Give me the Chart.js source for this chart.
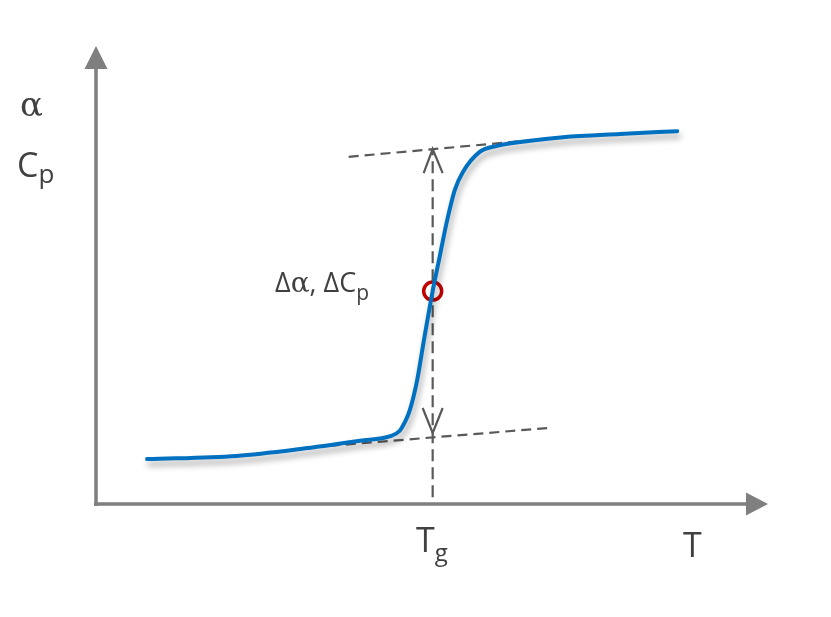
<!DOCTYPE html>
<html>
<head>
<meta charset="utf-8">
<script src="https://cdn.jsdelivr.net/npm/chart.js@4.4.0/dist/chart.umd.min.js"></script>
<style>
  html, body { margin: 0; padding: 0; background: #fff; }
  #wrap { width: 831px; height: 617px; }
</style>
</head>
<body>
<div id="wrap"><canvas id="c"></canvas></div>
<script>
// schematic glass transition curve, axes 0..100 in both directions
const curveT = [7.6, 20.9, 30.4, 39.3, 43.8, 45.2, 45.9, 46.7, 47.8, 48.8, 50.1, 51.2, 52.2, 53.4, 54.6, 57.1, 59.7, 64.6, 69.5, 78.0, 86.5];
const curveY = [9.8, 10.5, 12.0, 13.8, 14.8, 16.0, 17.7, 20.5, 27.1, 35.8, 46.5, 54.4, 61.6, 68.6, 72.5, 76.9, 78.2, 79.3, 80.1, 80.8, 81.4];

const lowTangentT = [34.8, 67.3];
const lowTangentY = [12.7, 16.6];
const highTangentT = [37.6, 69.8];
const highTangentY = [75.8, 80.1];

const tg = 50.1;
const tgLineY = [1.5, 77.5];      // vertical dashed line, bottom to top
const arrowTips = [15.5, 77.5];   // double arrow ends
const midY = 46.5;                // red circle at Tg

const textColor = '#404040';
const sans = '"Open Sans", "Noto Sans", sans-serif';
const serif = '"DejaVu Serif", "Liberation Serif", serif';

const toPts = (xs, ys) => xs.map((x, i) => ({ x: x, y: ys[i] }));

function drawRuns(ctx, x, y, runs) {
  runs.forEach(r => {
    ctx.font = r.font;
    ctx.fillText(r.t, x, y + (r.dy || 0));
    x += ctx.measureText(r.t).width;
  });
}

const decorations = {
  id: 'decorations',
  beforeDatasetDraw(chart, args) {
    if (args.index === 0) {
      const ctx = chart.ctx;
      ctx.save();
      ctx.shadowColor = 'rgba(0,0,0,0.35)';
      ctx.shadowBlur = 6;
      ctx.shadowOffsetX = 2;
      ctx.shadowOffsetY = 5;
    }
  },
  afterDatasetDraw(chart, args) {
    if (args.index === 0) chart.ctx.restore();
  },
  afterDatasetsDraw(chart) {
    const ctx = chart.ctx;
    const a = chart.chartArea;
    const xs = chart.scales.x, ys = chart.scales.y;

    // axes with filled arrowheads
    ctx.save();
    ctx.strokeStyle = '#7f7f7f';
    ctx.fillStyle = '#7f7f7f';
    ctx.lineWidth = 3.5;
    ctx.beginPath();
    ctx.moveTo(a.left, a.bottom + 2);
    ctx.lineTo(a.left, a.top + 20);
    ctx.moveTo(a.left - 2, a.bottom);
    ctx.lineTo(a.right - 20, a.bottom);
    ctx.stroke();
    ctx.beginPath();
    ctx.moveTo(a.left, a.top);
    ctx.lineTo(a.left - 11.5, a.top + 23);
    ctx.lineTo(a.left + 11.5, a.top + 23);
    ctx.closePath();
    ctx.fill();
    ctx.beginPath();
    ctx.moveTo(a.right, a.bottom);
    ctx.lineTo(a.right - 22, a.bottom - 11.5);
    ctx.lineTo(a.right - 22, a.bottom + 11.5);
    ctx.closePath();
    ctx.fill();

    // open arrowheads on the vertical double arrow
    const px = xs.getPixelForValue(tg);
    const top = ys.getPixelForValue(arrowTips[1]);
    const bot = ys.getPixelForValue(arrowTips[0]);
    ctx.strokeStyle = '#595959';
    ctx.lineWidth = 2.2;
    ctx.beginPath();
    ctx.moveTo(px - 9, top + 24);
    ctx.lineTo(px, top);
    ctx.lineTo(px + 10, top + 24);
    ctx.moveTo(px - 10, bot - 25);
    ctx.lineTo(px, bot);
    ctx.lineTo(px + 10, bot - 25);
    ctx.stroke();

    // labels
    ctx.fillStyle = textColor;
    ctx.textBaseline = 'alphabetic';
    drawRuns(ctx, 20, 116, [{ t: 'α', font: '34px ' + serif }]);
    drawRuns(ctx, 17, 177, [{ t: 'C', font: '34px ' + sans }, { t: 'p', font: '26px ' + sans, dy: 6 }]);
    drawRuns(ctx, 275, 292, [
      { t: 'Δ', font: '27px ' + sans },
      { t: 'α', font: '28px ' + serif },
      { t: ', Δ', font: '27px ' + sans },
      { t: 'C', font: '27px ' + sans },
      { t: 'p', font: '21px ' + sans, dy: 8 }
    ]);
    drawRuns(ctx, 416, 552, [{ t: 'T', font: '34px ' + sans }, { t: 'g', font: '24px ' + sans, dy: 9 }]);
    drawRuns(ctx, 683, 557, [{ t: 'T', font: '34px ' + sans }]);
    ctx.restore();
  }
};

new Chart(document.getElementById('c'), {
  type: 'scatter',
  data: {
    datasets: [
      {
        data: toPts(curveT, curveY),
        showLine: true,
        borderColor: '#0070c0',
        borderWidth: 4,
        pointRadius: 0,
        cubicInterpolationMode: 'monotone',
        borderCapStyle: 'round'
      },
      {
        data: toPts(lowTangentT, lowTangentY),
        showLine: true,
        borderColor: '#595959',
        borderWidth: 2.2,
        borderDash: [10, 6],
        pointRadius: 0
      },
      {
        data: toPts(highTangentT, highTangentY),
        showLine: true,
        borderColor: '#595959',
        borderWidth: 2.2,
        borderDash: [10, 6],
        pointRadius: 0
      },
      {
        data: toPts([tg, tg], tgLineY),
        showLine: true,
        borderColor: '#595959',
        borderWidth: 2.2,
        borderDash: [12, 6],
        pointRadius: 0
      },
      {
        data: [{ x: tg, y: midY }],
        pointRadius: 9,
        pointBorderWidth: 3.5,
        pointBorderColor: '#c00000',
        pointBackgroundColor: 'rgba(0,0,0,0)'
      }
    ]
  },
  options: {
    responsive: true,
    maintainAspectRatio: false,
    animation: false,
    layout: { padding: { left: 96, right: 63, top: 46, bottom: 113 } },
    plugins: { legend: { display: false }, tooltip: { enabled: false } },
    scales: {
      x: { type: 'linear', min: 0, max: 100, display: false },
      y: { type: 'linear', min: 0, max: 100, display: false }
    },
    elements: { line: { fill: false } },
    datasets: { scatter: { clip: false } }
  },
  plugins: [decorations]
});
</script>
</body>
</html>
